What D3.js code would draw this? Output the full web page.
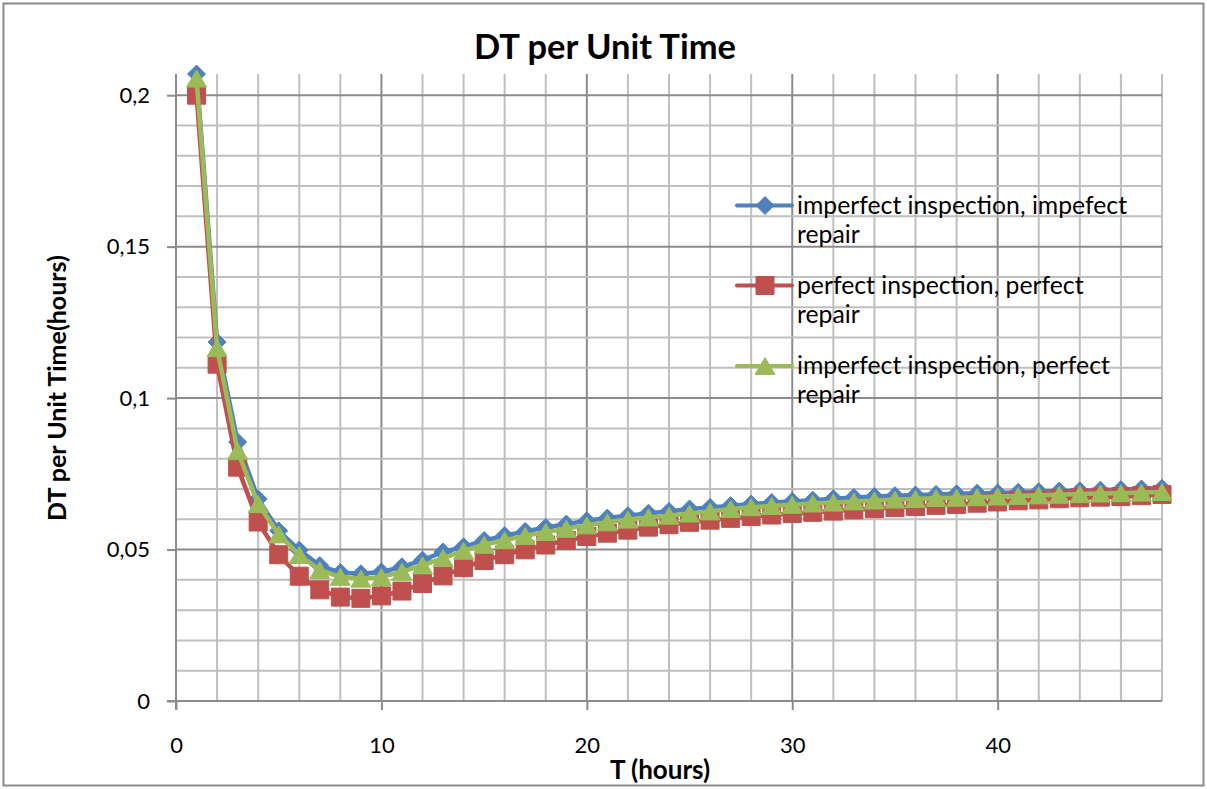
<!DOCTYPE html>
<html>
<head>
<meta charset="utf-8">
<script src="https://cdn.jsdelivr.net/npm/d3@7"></script>
<style>
  html, body { margin: 0; padding: 0; background: #fff; }
  svg { display: block; font-family: Lato, "Open Sans", sans-serif; }
</style>
</head>
<body>
<svg id="chart" width="1207" height="789"></svg>
<script>
// Inspection interval T (hours)
const hours = [1, 2, 3, 4, 5, 6, 7, 8, 9, 10, 11, 12, 13, 14, 15, 16, 17, 18, 19, 20, 21, 22, 23, 24,
               25, 26, 27, 28, 29, 30, 31, 32, 33, 34, 35, 36, 37, 38, 39, 40, 41, 42, 43, 44, 45, 46, 47, 48];

// Downtime per unit time for each inspection / repair scenario
const imperfectInspImperfectRepair = [
  0.2070, 0.1185, 0.0855, 0.0667, 0.0562, 0.0498, 0.0447, 0.0424, 0.0420, 0.0426, 0.0443, 0.0465,
  0.0492, 0.0509, 0.0530, 0.0546, 0.0560, 0.0573, 0.0584, 0.0595, 0.0604, 0.0612, 0.0620, 0.0626,
  0.0634, 0.0639, 0.0645, 0.0650, 0.0655, 0.0659, 0.0663, 0.0668, 0.0672, 0.0675, 0.0678, 0.0680,
  0.0682, 0.0684, 0.0686, 0.0687, 0.0689, 0.0691, 0.0693, 0.0694, 0.0696, 0.0698, 0.0700, 0.0702];

const perfectInspPerfectRepair = [
  0.2000, 0.1112, 0.0772, 0.0591, 0.0483, 0.0412, 0.0367, 0.0343, 0.0339, 0.0347, 0.0363, 0.0388,
  0.0413, 0.0440, 0.0464, 0.0483, 0.0499, 0.0515, 0.0530, 0.0543, 0.0554, 0.0564, 0.0574, 0.0582,
  0.0590, 0.0597, 0.0603, 0.0609, 0.0614, 0.0619, 0.0623, 0.0627, 0.0631, 0.0635, 0.0639, 0.0642,
  0.0646, 0.0649, 0.0653, 0.0657, 0.0661, 0.0664, 0.0668, 0.0671, 0.0673, 0.0675, 0.0678, 0.0682];

const imperfectInspPerfectRepair = [
  0.2055, 0.1165, 0.0825, 0.0650, 0.0550, 0.0482, 0.0432, 0.0410, 0.0404, 0.0409, 0.0427, 0.0448,
  0.0472, 0.0496, 0.0516, 0.0531, 0.0545, 0.0558, 0.0569, 0.0580, 0.0590, 0.0599, 0.0606, 0.0612,
  0.0619, 0.0626, 0.0634, 0.0640, 0.0644, 0.0648, 0.0652, 0.0655, 0.0659, 0.0662, 0.0665, 0.0667,
  0.0670, 0.0671, 0.0673, 0.0675, 0.0677, 0.0679, 0.0681, 0.0683, 0.0685, 0.0686, 0.0688, 0.0690];

const seriesNames = [
  ["imperfect inspection, impefect", "repair"],
  ["perfect inspection, perfect", "repair"],
  ["imperfect inspection, perfect", "repair"]
];
const seriesColors = ["#4F81BD", "#C0504D", "#9BBB59"];
const seriesMarkers = ["diamond", "square", "triangle"];

const xTickValues = [0, 10, 20, 30, 40];
const xTickLabels = ["0", "10", "20", "30", "40"];
const yTickValues = [0, 0.05, 0.1, 0.15, 0.2];
const yTickLabels = ["0", "0,05", "0,1", "0,15", "0,2"];

const chartTitle = "DT per Unit Time";
const xTitle = "T (hours)";
const yTitle = "DT per Unit Time(hours)";

// ---- layout ----
const W = 1207, H = 789;
const plot = { left: 176, right: 1162, top: 74, bottom: 701 };

const svg = d3.select("#chart");

// scale a text element's font size so that it spans the given width
function fitWidth(sel, width) {
  const node = sel.node();
  const fs = parseFloat(sel.style("font-size"));
  const len = node.getComputedTextLength();
  if (len > 0) sel.style("font-size", (fs * width / len).toFixed(2) + "px");
  return sel;
}

// outer chart frame
svg.append("rect")
  .attr("x", 3.5).attr("y", 3.5)
  .attr("width", W - 7).attr("height", H - 7)
  .attr("fill", "#fff")
  .attr("stroke", "#8a8a8a").attr("stroke-width", 2);

const x = d3.scaleLinear().domain([0, 48]).range([plot.left, plot.right]);
const y = d3.scaleLinear().domain([0, 0.207]).range([plot.bottom, plot.top]);

// ---- gridlines ----
const grid = svg.append("g");
const minorX = d3.range(0, 48.001, 2);
const minorY = d3.range(0, 0.2001, 0.01).map(v => +v.toFixed(2));
const isMajorX = v => Math.abs(v % 10) < 1e-9;
const isMajorY = v => Math.abs(Math.round(v * 100) % 5) === 0;

grid.selectAll("line.vx").data(minorX.filter(v => v > 0)).join("line")
  .attr("x1", d => x(d)).attr("x2", d => x(d))
  .attr("y1", plot.top).attr("y2", plot.bottom)
  .attr("stroke", d => isMajorX(d) ? "#8c8c8c" : "#bfbfbf")
  .attr("stroke-width", 2);

grid.selectAll("line.hy").data(minorY.filter(v => v > 0)).join("line")
  .attr("x1", plot.left).attr("x2", plot.right)
  .attr("y1", d => y(d)).attr("y2", d => y(d))
  .attr("stroke", d => isMajorY(d) ? "#8c8c8c" : "#bfbfbf")
  .attr("stroke-width", 2);

// ---- axes ----
const axisColor = "#8c8c8c";
const xAxis = svg.append("g")
  .attr("transform", `translate(0,${plot.bottom})`)
  .call(d3.axisBottom(x).tickValues(xTickValues)
    .tickFormat((d, i) => xTickLabels[i]).tickSize(9).tickPadding(27).tickSizeOuter(0));
const yAxis = svg.append("g")
  .attr("transform", `translate(${plot.left},0)`)
  .call(d3.axisLeft(y).tickValues(yTickValues)
    .tickFormat((d, i) => yTickLabels[i]).tickSize(9).tickPadding(17).tickSizeOuter(0));

[xAxis, yAxis].forEach(g => {
  g.select(".domain").attr("stroke", axisColor).attr("stroke-width", 2);
  g.selectAll(".tick line").attr("stroke", axisColor).attr("stroke-width", 2);
  g.selectAll(".tick text").attr("fill", "#000")
    .style("font-family", "Lato, sans-serif").style("font-size", "22px");
});
// y axis line runs down to the end of the x tick marks; x axis line starts at the y tick marks
yAxis.select(".domain").attr("d", `M0,${plot.top}V${plot.bottom + 9}`);
xAxis.select(".domain").attr("d", `M${plot.left - 9},0H${plot.right}`);

// ---- series ----
const markerPath = (kind, cx, cy) => {
  if (kind === "diamond") {
    const r = 9;
    return `M${cx},${cy - r}L${cx + r},${cy}L${cx},${cy + r}L${cx - r},${cy}Z`;
  }
  if (kind === "square") {
    const h = 9;
    return `M${cx - h},${cy - h}H${cx + h}V${cy + h}H${cx - h}Z`;
  }
  const hw = 10, hh = 8.5;
  return `M${cx},${cy - hh}L${cx + hw},${cy + hh}L${cx - hw},${cy + hh}Z`;
};

const seriesValues = [imperfectInspImperfectRepair, perfectInspPerfectRepair, imperfectInspPerfectRepair];
const line = d3.line().x(d => x(d[0])).y(d => y(d[1]));

seriesValues.forEach((vals, si) => {
  const pts = hours.map((h, i) => [h, vals[i]]);
  const g = svg.append("g");
  g.append("path").datum(pts)
    .attr("d", line)
    .attr("fill", "none")
    .attr("stroke", seriesColors[si])
    .attr("stroke-width", 4.5)
    .attr("stroke-linejoin", "round")
    .attr("stroke-linecap", "round");
  g.selectAll("path.m").data(pts).join("path")
    .attr("d", d => markerPath(seriesMarkers[si], x(d[0]), y(d[1])))
    .attr("fill", seriesColors[si])
    .attr("stroke", seriesColors[si])
    .attr("stroke-width", 1);
});

// ---- legend ----
const legend = svg.append("g");
const legendRows = [205.5, 285.5, 366];
let legendFont = null;
seriesNames.forEach((lines, i) => {
  const cy = legendRows[i];
  legend.append("line")
    .attr("x1", 737).attr("x2", 792).attr("y1", cy).attr("y2", cy)
    .attr("stroke", seriesColors[i]).attr("stroke-width", 4)
    .attr("stroke-linecap", "round");
  legend.append("path")
    .attr("d", markerPath(seriesMarkers[i], 765, cy))
    .attr("fill", seriesColors[i]).attr("stroke", seriesColors[i]);
  const first = legend.append("text")
    .attr("x", 797).attr("y", cy + 8)
    .style("font-size", "23px").attr("fill", "#000")
    .text(lines[0]);
  if (legendFont === null) {
    fitWidth(first, 330);
    legendFont = first.style("font-size");
  }
  first.style("font-size", legendFont);
  legend.append("text")
    .attr("x", 797).attr("y", cy + 37)
    .style("font-size", legendFont).attr("fill", "#000")
    .text(lines[1]);
});

// ---- titles ----
const title = svg.append("text")
  .attr("x", 605).attr("y", 59)
  .attr("text-anchor", "middle")
  .style("font-size", "30px").style("font-weight", "bold")
  .text(chartTitle);
fitWidth(title, 262);

svg.append("text")
  .attr("x", 660).attr("y", 779)
  .attr("text-anchor", "middle")
  .style("font-size", "26px").style("font-weight", "bold")
  .text(xTitle);

const yt = svg.append("text")
  .attr("transform", `translate(66,388) rotate(-90)`)
  .attr("text-anchor", "middle")
  .style("font-size", "20px").style("font-weight", "bold")
  .text(yTitle);
fitWidth(yt, 266);
</script>
</body>
</html>
